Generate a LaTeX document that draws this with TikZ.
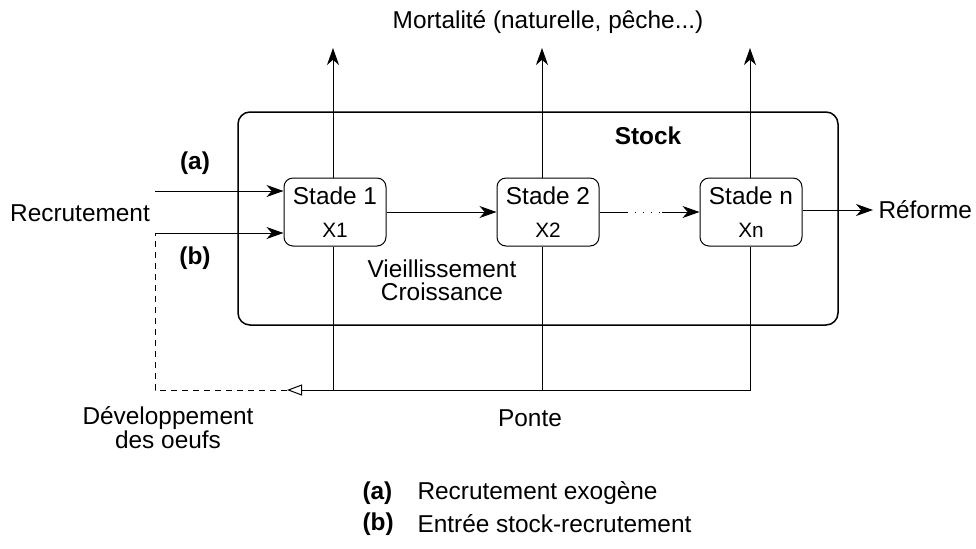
\documentclass[tikz,border=0pt]{standalone}
\usepackage{fontspec}
\setmainfont{Liberation Sans}
\usetikzlibrary{arrows.meta,positioning}

\begin{document}
\begin{tikzpicture}[x=0.5pt, y=-0.5pt, line width=0.5pt,
    every node/.style={font=\fontsize{12.2}{11.5}\selectfont},
    stage/.style={draw, rounded corners=4.5pt, minimum width=51pt, minimum height=34pt,
        align=center, inner sep=0pt, font=\fontsize{12.2}{15}\selectfont},
    flow/.style={-{Stealth[length=8.5pt, width=6pt, inset=2.6pt]}},
    back/.style={-{Triangle[open, length=7.5pt, width=5.5pt]}}]
    \useasboundingbox (0,0) rectangle (976,548);
    % Stock
    \draw[line width=0.75pt, rounded corners=6pt] (238,112) rectangle (838,325);
    \node[font=\fontsize{12.2}{14}\bfseries\selectfont] (stock) at (648,136) {Stock};
    \node (mort) at (548,22) {Mortalité (naturelle, pêche...)};
    % stades
    \node[stage] (s1) at (335,212) {Stade 1\\[1.5pt]{\fontsize{10.4}{12}\selectfont X1}};
    \node[stage] (s2) at (548,212) {Stade 2\\[1.5pt]{\fontsize{10.4}{12}\selectfont X2}};
    \node[stage] (sn) at (751,212) {Stade n\\[1.5pt]{\fontsize{10.4}{12}\selectfont Xn}};
    \node[align=center] (vieil) at (442,280) {Vieillissement\\Croissance};
    % mortalite
    \coordinate (m1) at (333,48); \coordinate (m2) at (542,48); \coordinate (mn) at (750,48);
    \draw[flow] (s1.north -| m1) -- (m1);
    \draw[flow] (s2.north -| m2) -- (m2);
    \draw[flow] (sn.north -| mn) -- (mn);
    % vieillissement
    \draw[flow] (s1) -- (s2);
    \coordinate (d1) at (627,212); \coordinate (d2) at (662,212);
    \draw (s2.east |- d1) -- (d1);
    \draw[dash pattern=on 0.5pt off 3.5pt] (d1) -- (d2);
    \draw[flow] (d2) -- (sn.west |- d2);
    \node[anchor=west, inner sep=2.5pt] (ref) at (873,210) {Réforme};
    \draw[flow] (sn.east |- ref) -- (ref);
    % ponte
    \coordinate (p1) at (333,390); \coordinate (p2) at (542,390); \coordinate (pn) at (750,390);
    \coordinate (egg) at (287,390);
    \draw (s1.south -| p1) -- (p1);
    \draw (s2.south -| p2) -- (p2);
    \draw (sn.south -| pn) -- (pn) -- (p1);
    \draw[back] (p1) -- (egg);
    \node (ponte) at (530,418) {Ponte};
    \node[align=center, font=\fontsize{12.2}{12}\selectfont] (dev) at (168,428) {Développement\\des oeufs};
    % recrutement
    \node (recr) at (80,213) {Recrutement};
    \coordinate (ra) at (155,191); \coordinate (rb) at (155,233); \coordinate (rc) at (155,390);
    \draw[flow] (ra) -- (ra -| s1.west);
    \draw[dash pattern=on 3pt off 2.5pt] (egg) -- (rc) -- (rb);
    \draw[flow] (rb) -- (rb -| s1.west);
    \node[font=\fontsize{12.2}{14}\bfseries\selectfont] (la) at (195,163) {(a)};
    \node[font=\fontsize{12.2}{14}\bfseries\selectfont] (lb) at (195,258) {(b)};
    % legende
    \node[anchor=west, inner sep=0pt, font=\fontsize{12.2}{14}\bfseries\selectfont] (kA) at (362,493) {(a)};
    \node[anchor=west, inner sep=0pt] (tA) at (417,493) {Recrutement exogène};
    \node[anchor=west, inner sep=0pt, font=\fontsize{12.2}{14}\bfseries\selectfont] (kB) at (362,524) {(b)};
    \node[anchor=west, inner sep=0pt] (tB) at (417,524) {Entrée stock-recrutement};
\end{tikzpicture}
\end{document}
